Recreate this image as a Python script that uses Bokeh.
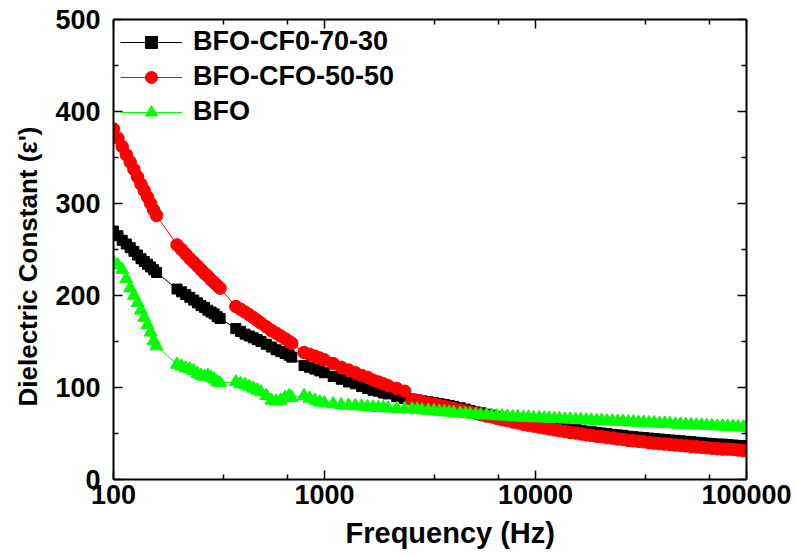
from bokeh.plotting import figure
from bokeh.models import (FixedTicker, LogAxis, LinearAxis, Legend, LegendItem,
                          PrintfTickFormatter, Range1d, Title)
from bokeh.embed import file_html
from bokeh.resources import INLINE

FONT = "Liberation Sans"

# ---------------- data ----------------
FREQ = [100, 105, 110, 115, 120, 125, 130, 135, 140, 145, 150, 155, 160,
        200, 210, 220, 230, 240, 250, 260, 270, 280, 290, 300, 310, 320,
        380, 400, 420, 440, 460, 480, 500, 530, 560, 590, 620, 650, 680, 700,
        800, 850, 900, 950, 1000, 1100, 1200, 1300, 1400, 1500, 1600, 1700, 1800, 1900, 2000, 2200, 2400,
        2600, 2750, 2900, 3100, 3300, 3500, 3700, 3900, 4100, 4400,
        4650, 4900, 5200, 5500, 5850, 6200, 6550, 6950, 7350, 7800,
        8250, 8750, 9250, 9800, 10400, 11000, 11600, 12300, 13000, 13800,
        14600, 15500, 16400, 17400, 18400, 19500, 20600, 21800, 23100, 24500,
        26000, 27500, 29100, 30800, 32600, 34500, 36500, 38700, 41000, 43400,
        46000, 48700, 51600, 54600, 57800, 61200, 64800, 68600, 72700, 77000,
        81500, 86300, 91400, 96800, 100000]

BFO_CFO_70_30 = [270, 265, 260, 256, 252, 248, 244, 240, 237, 234, 231, 228, 225,
                 207, 204, 201, 198, 195, 192, 189, 187, 184, 182, 180, 177, 175,
                 164, 161, 158, 156, 154, 152, 150, 147, 144, 141, 139, 137, 135, 133,
                 124, 122, 120, 118, 116, 112, 109, 106, 104, 101, 99, 97, 96, 94, 93, 90, 88,
                 87.5, 86.5, 85.5, 84.5, 83.5, 82.5, 81.5, 80.5, 79.5, 78,
                 76.5, 75, 73.5, 72.5, 71, 70, 68.5, 67.5, 66.5, 65,
                 64, 63, 62, 61, 60.5, 59.5, 58.5, 57.5, 57, 56,
                 55, 54.5, 53.5, 52.5, 52, 51, 50.5, 50, 49, 48.5,
                 48, 47, 46.5, 46, 45.5, 45, 44.5, 44, 43.5, 43,
                 42.5, 42, 41.5, 41, 40.5, 40, 39.5, 39, 38.5, 38.5,
                 38, 37.5, 37, 37, 36.5]

BFO_CFO_50_50 = [381, 371, 362, 353, 345, 337, 329, 321, 314, 307, 300, 293, 287,
                 255, 250, 245, 240, 236, 232, 228, 224, 221, 217, 214, 211, 208,
                 188, 185, 182, 179, 176, 173, 170, 166, 162, 159, 156, 153, 150, 148,
                 138, 136, 134, 132, 130, 126, 122, 119, 116, 113, 111, 108, 106, 104, 102, 99, 96,
                 86.5, 85.5, 84.5, 83, 82, 80.5, 79.5, 78, 77, 75.5,
                 74.5, 73, 72, 70.5, 69, 68, 66.5, 65, 64, 62.5,
                 61.5, 60, 59, 58, 57, 56, 55, 54, 53, 52,
                 51, 50.5, 49.5, 48.5, 48, 47, 46.5, 45.5, 45, 44,
                 43.5, 42.5, 42, 41.5, 41, 40, 39.5, 39, 38.5, 38,
                 37.5, 37, 36.5, 36, 35.5, 35, 34.5, 34, 33.5, 33,
                 33, 32.5, 32, 31.5, 31.5]

BFO = [236, 233, 228, 218, 208, 200, 192, 184, 176, 168, 160, 151, 145,
       125, 123, 121, 120, 118, 115, 113, 112, 113, 111, 109, 106, 105,
       106, 104, 103, 101, 99, 97, 95, 91, 86, 85, 86, 89, 91, 89,
       91, 88, 86, 84, 83, 82, 81, 80.5, 80, 79.5, 79, 78.5, 78, 78, 77.5, 77, 77,
       76.5, 76, 75.5, 75, 74.5, 74, 73.5, 73, 72.5, 72,
       71.5, 71, 70.5, 70, 70, 69.5, 69, 69, 68.5, 68,
       68, 67.5, 67.5, 67, 67, 66.5, 66.5, 66, 66, 65.5,
       65.5, 65, 65, 64.5, 64.5, 64, 64, 63.5, 63.5, 63,
       63, 62.5, 62.5, 62, 62, 61.5, 61.5, 61, 61, 60.5,
       60, 60, 59.5, 59.5, 59, 59, 58.5, 58.5, 58, 58,
       57.5, 57.5, 57, 57, 56.5]

SERIES_LABELS = ["BFO-CF0-70-30", "BFO-CFO-50-50", "BFO"]
X_TITLE = "Frequency (Hz)"
Y_TITLE = "Dielectric Constant (\u03b5')"

X_MAJOR = [100, 1000, 10000, 100000]
X_MINOR = [333.3, 666.7, 3333, 6667, 33333, 66667]
Y_MAJOR = [0, 100, 200, 300, 400, 500]
Y_MINOR = [50, 150, 250, 350, 450]

# ---------------- figure ----------------
p = figure(width=795, height=556, x_axis_type="log",
           x_range=Range1d(100, 100000), y_range=Range1d(0, 500),
           output_backend="svg", toolbar_location=None,
           min_border_left=113, min_border_right=49,
           min_border_top=19, min_border_bottom=75)
p.xgrid.visible = False
p.ygrid.visible = False
p.outline_line_color = None
p.background_fill_color = "white"
p.border_fill_color = "white"


def style_axis(ax, labels=True):
    ax.axis_line_width = 2
    ax.axis_line_color = "black"
    ax.major_tick_in = 9
    ax.major_tick_out = 0
    ax.minor_tick_in = 5
    ax.minor_tick_out = 0
    ax.major_tick_line_width = 1.5
    ax.minor_tick_line_width = 1.5
    ax.major_tick_line_color = "black"
    ax.minor_tick_line_color = "black"
    ax.major_label_text_font = FONT
    ax.major_label_text_font_style = "bold"
    ax.major_label_text_color = "black"
    ax.major_label_text_font_size = "27px"
    if not labels:
        ax.major_label_text_font_size = "2px"
        ax.major_label_text_alpha = 0
        ax.major_label_standoff = 0


xt = FixedTicker(ticks=X_MAJOR, minor_ticks=X_MINOR)
yt = FixedTicker(ticks=Y_MAJOR, minor_ticks=Y_MINOR)

xb = p.below[0]
xb.ticker = xt
xb.formatter = PrintfTickFormatter(format="%d")
style_axis(xb)
xb.major_label_standoff = 5

yl = p.left[0]
yl.ticker = yt
style_axis(yl)
yl.major_label_standoff = 13

xtop = LogAxis(ticker=xt, formatter=PrintfTickFormatter(format="%d"))
style_axis(xtop, labels=False)
p.add_layout(xtop, "above")
yr = LinearAxis(ticker=yt)
style_axis(yr, labels=False)
p.add_layout(yr, "right")

# axis titles (placed slightly off-centre, as in the reference)
p.add_layout(Title(text=X_TITLE, align="left", offset=232, standoff=16,
                   text_font=FONT, text_font_style="bold", text_font_size="29px",
                   text_color="black"), "below")
p.add_layout(Title(text=Y_TITLE, align="left", offset=73, standoff=20,
                   text_font=FONT, text_font_style="bold", text_font_size="26px",
                   text_color="black"), "left")

# ---------------- series ----------------
l1 = p.line(FREQ, BFO_CFO_70_30, line_color="black", line_width=1)
s1 = p.scatter(FREQ, BFO_CFO_70_30, marker="square", size=10, color="black")
l2 = p.line(FREQ, BFO_CFO_50_50, line_color="#ff0000", line_width=1)
s2 = p.scatter(FREQ, BFO_CFO_50_50, marker="circle", size=12.5, color="#ff0000")
l3 = p.line(FREQ, BFO, line_color="#00ff00", line_width=1)
s3 = p.scatter(FREQ, BFO, marker="triangle", size=13, color="#00ff00")

legend = Legend(items=[LegendItem(label=SERIES_LABELS[0], renderers=[l1, s1]),
                       LegendItem(label=SERIES_LABELS[1], renderers=[l2, s2]),
                       LegendItem(label=SERIES_LABELS[2], renderers=[l3, s3])],
                location="top_left")
legend.label_text_font = FONT
legend.label_text_font_style = "bold"
legend.label_text_font_size = "27px"
legend.label_text_color = "black"
legend.glyph_width = 62
legend.glyph_height = 30
legend.label_height = 30
legend.spacing = 4
legend.padding = 8
legend.margin = 7
legend.label_standoff = 11
legend.border_line_color = None
legend.background_fill_alpha = 0
p.add_layout(legend)

open("out.html", "w").write(file_html(p, INLINE))
